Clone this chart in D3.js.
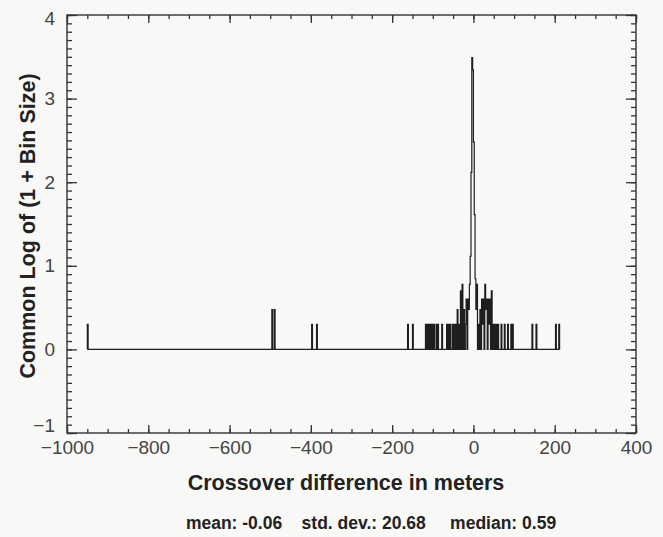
<!DOCTYPE html>
<html>
<head>
<meta charset="utf-8">
<script src="https://cdn.jsdelivr.net/npm/d3@7"></script>
<style>
  body { margin: 0; background: #f8f9f7; }
  svg { display: block; }
</style>
</head>
<body>
<svg width="663" height="537"></svg>
<script>
// Histogram bins (2 m wide), only the non-empty ones
const binWidth = 2;
const binStart = [
  -950, -496, -490, -398, -386,
  -162, -150,
  -118, -114, -110, -106, -102, -98,
  -92, -88, -78,
  -66, -62, -58,
  -52, -48, -44, -40, -36,
  -32, -28, -24, -20, -18, -14,
  -12, -10, -8, -6, -4, -2, 0, 2, 4, 6, 8,
  12, 16, 20, 22, 24, 28, 30, 32, 36, 38, 40, 44,
  48, 52, 56,
  60, 68, 76, 84, 92, 96,
  144, 154,
  202, 210
];
const binCount = [
  1, 2, 2, 1, 1,
  1, 1,
  1, 1, 1, 1, 1, 1,
  1, 1, 1,
  1, 1, 1,
  1, 1, 1, 2, 1,
  4, 5, 2, 1, 3, 3,
  2, 5, 12, 130, 3100, 2200, 300, 40, 6, 2, 5,
  1, 2, 3, 1, 3, 5, 2, 3, 3, 1, 3, 4,
  1, 1, 1,
  1, 1, 1, 1, 1, 1,
  1, 1,
  1, 1
];

// Axis ticks
const xTicks = [-1000, -800, -600, -400, -200, 0, 200, 400];
const yTicks = [-1, 0, 1, 2, 3, 4];
const statsText = "mean: -0.06    std. dev.: 20.68     median: 0.59";

const margin = { top: 15, right: 27, bottom: 104, left: 67 },
      width = 663 - margin.left - margin.right,
      height = 537 - margin.top - margin.bottom;

const font = "'Liberation Sans', Arial, sans-serif";

const svg = d3.select("svg");
const g = svg.append("g")
    .attr("transform", `translate(${margin.left},${margin.top})`);

const x = d3.scaleLinear().domain([-1000, 400]).range([0, width]);
const y = d3.scaleLinear().domain([-1, 4]).range([height, 0]);

const axisColor = "#333";
const minorX = d3.range(-1000, 401, 50);
const minorY = d3.range(-10, 41).map(d => d / 10);

// tick marks pointing inward on all four sides
function ticks(axis, vals, size) {
    return axis.tickValues(vals).tickSizeInner(-size).tickSizeOuter(0).tickFormat("");
}
const tickGroups = [
    [d3.axisBottom(x), minorX, 4, `translate(0,${height})`],
    [d3.axisBottom(x), xTicks, 8, `translate(0,${height})`],
    [d3.axisTop(x), minorX, 4, null],
    [d3.axisTop(x), xTicks, 8, null],
    [d3.axisLeft(y), minorY, 5, null],
    [d3.axisLeft(y), yTicks, 10, null],
    [d3.axisRight(y), minorY, 5, `translate(${width},0)`],
    [d3.axisRight(y), yTicks, 10, `translate(${width},0)`]
];
tickGroups.forEach(([axis, vals, size, tr]) => {
    const a = g.append("g").call(ticks(axis, vals, size));
    if (tr) a.attr("transform", tr);
    a.select(".domain").remove();
    a.selectAll(".tick line").attr("stroke", axisColor).attr("stroke-width", 1.3);
});

// frame
g.append("rect")
    .attr("width", width).attr("height", height)
    .attr("fill", "none").attr("stroke", axisColor).attr("stroke-width", 1.4);

// tick labels
const fmt = d3.format("d");
const xLab = g.append("g")
    .attr("transform", `translate(0,${height})`)
    .call(d3.axisBottom(x).tickValues(xTicks).tickFormat(fmt).tickSize(0).tickPadding(8));
const yLab = g.append("g")
    .call(d3.axisLeft(y).tickValues(yTicks).tickFormat(fmt).tickSize(0).tickPadding(12));
[xLab, yLab].forEach(a => {
    a.select(".domain").remove();
    a.selectAll("text")
        .attr("fill", "#444")
        .style("font-family", font)
        .style("font-size", "19px");
});
// end labels of the y axis are nudged inside the frame
yLab.selectAll(".tick text")
    .attr("dy", d => d === -1 ? "-0.1em" : d === 4 ? "0.5em" : "0.32em");

// axis titles
svg.append("text")
    .attr("x", 346).attr("y", 490)
    .attr("text-anchor", "middle")
    .style("font-family", font)
    .style("font-size", "21.5px").style("font-weight", "bold")
    .attr("fill", "#222")
    .text("Crossover difference in meters");

svg.append("text")
    .attr("transform", "rotate(-90)")
    .attr("x", -226).attr("y", 35)
    .attr("text-anchor", "middle")
    .style("font-family", font)
    .style("font-size", "21.5px").style("font-weight", "bold")
    .attr("fill", "#222")
    .text("Common Log of (1 + Bin Size)");

svg.append("text")
    .attr("x", 371).attr("y", 529)
    .attr("text-anchor", "middle")
    .attr("xml:space", "preserve")
    .style("white-space", "pre")
    .style("font-family", font)
    .style("font-size", "17.5px").style("font-weight", "bold")
    .attr("fill", "#222")
    .text(statsText);

// step histogram path
const pts = [];
binStart.forEach((x0, i) => {
    const x1 = x0 + binWidth;
    const v = Math.log10(1 + binCount[i]);
    if (i === 0 || binStart[i - 1] + binWidth !== x0) pts.push([x0, 0]);
    pts.push([x0, v], [x1, v]);
    if (i === binStart.length - 1 || binStart[i + 1] !== x1) pts.push([x1, 0]);
});

const line = d3.line()
    .x(d => x(d[0]))
    .y(d => y(d[1]));

g.append("path")
    .datum(pts)
    .attr("fill", "none")
    .attr("stroke", "#1e1e1e")
    .attr("stroke-width", 1.2)
    .attr("d", line);
</script>
</body>
</html>
